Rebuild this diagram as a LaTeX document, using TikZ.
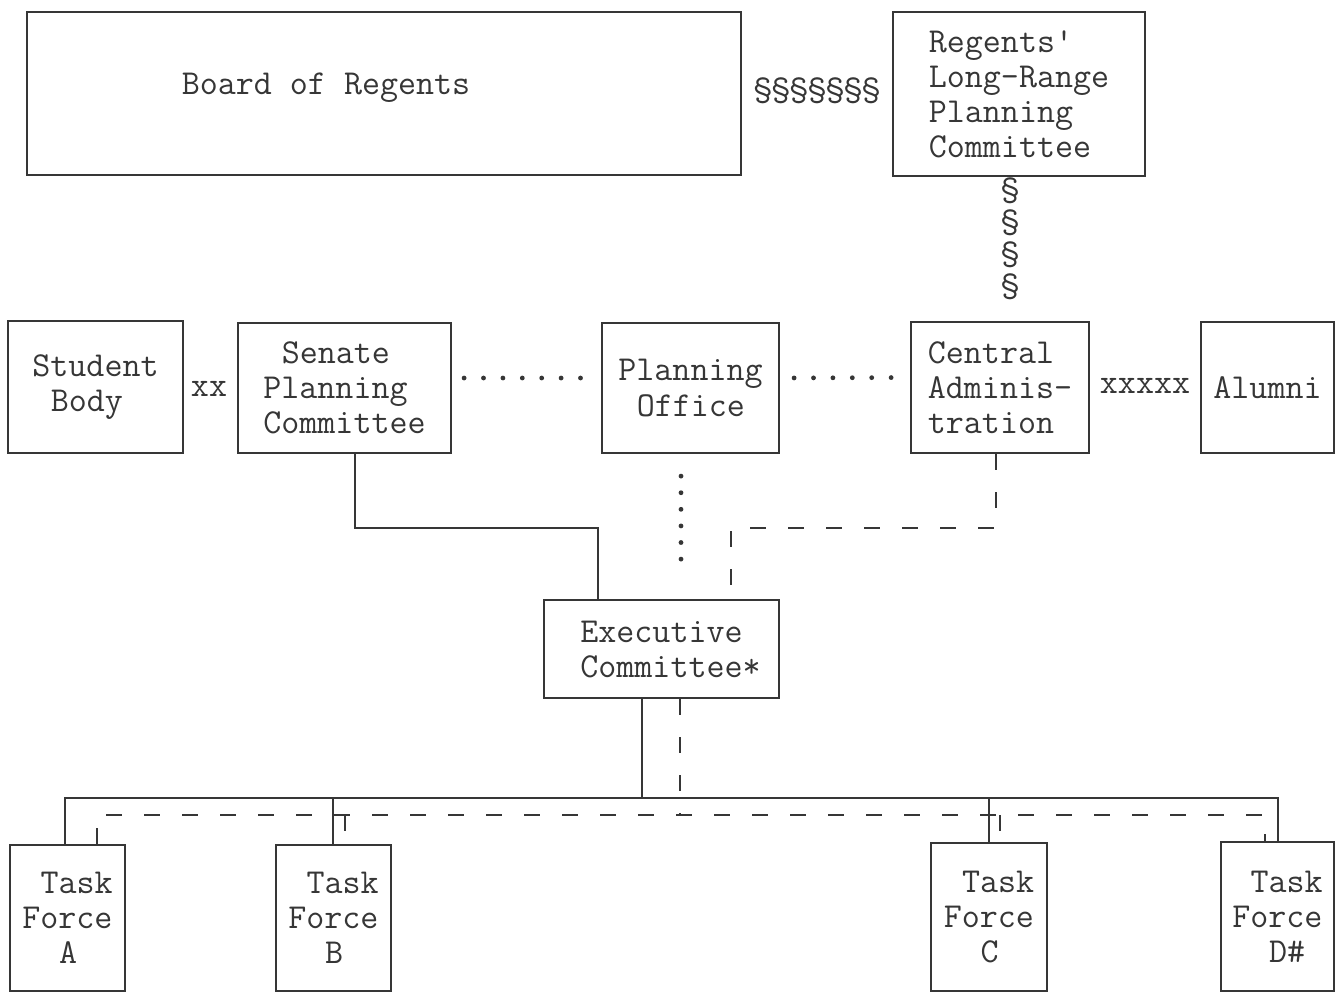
\documentclass[tikz,border=0pt]{standalone}
\usepackage{fontspec}
\usetikzlibrary{calc}
\definecolor{ink}{HTML}{363636}
\begin{document}
\begin{tikzpicture}[x=0.5pt,y=-0.5pt,
  every node/.style={font=\ttfamily\fontsize{17.5}{17.5}\selectfont, text=ink},
  box/.style={draw=ink, line width=1.1pt, inner sep=0pt, align=left},
  conn/.style={draw=ink, line width=1.1pt},
  dashl/.style={draw=ink, line width=1.1pt, dash pattern=on 8pt off 11pt},
  dotl/.style={draw=ink, line width=2.4pt, line cap=round, dash pattern=on 0pt off 9.7pt},
  dotv/.style={draw=ink, line width=2.4pt, line cap=round, dash pattern=on 0pt off 8.3pt}]
\useasboundingbox (0,0) rectangle (1336,993);
\clip (0,0) rectangle (1336,993);
% top row
\node[box, minimum width=357pt, minimum height=81.5pt,
  label={[xshift=-29pt, yshift=3pt]center:Board of Regents}] (board) at (384,93.5) {};
\node[box, minimum width=126pt, minimum height=82pt] (lrpc) at (1019,94)
  {Regents'\\Long-Range\\Planning\\Committee};
\node (s1) at (817,91) {§§§§§§§};
\node[align=center, font=\ttfamily\fontsize{17.5}{16}\selectfont] (s2) at (1010,239) {§\\§\\§\\§};
% middle row
\node[box, minimum width=87.5pt, minimum height=66pt] (student) at (95.5,387)
  {Student\\\hspace*{0.525em}Body};
\node[box, minimum width=106.5pt, minimum height=65pt] (senate) at (344.5,388)
  {\hspace*{0.525em}Senate\\Planning\\Committee};
\node[box, minimum width=88.5pt, minimum height=65pt] (plan) at (690.5,388)
  {Planning\\\hspace*{0.525em}Office};
\node[box, minimum width=89pt, minimum height=65.5pt] (central) at (1000,387.5)
  {Central\\Adminis-\\tration};
\node[box, minimum width=66.5pt, minimum height=65.5pt] (alumni) at (1267.5,387.5)
  {Alumni};
\node (x1) at (209,389) {xx};
\node (x2) at (1145,386) {xxxxx};
% executive committee
\node[box, minimum width=117.5pt, minimum height=49pt] (exec) at (661.5,649)
  {Executive\\Committee\rlap{*}};
% task forces
\node[box, minimum width=57.5pt, minimum height=73pt] (tfa) at (67.5,918)
  {\hspace*{0.525em}Task\\Force\\\hspace*{1.05em}A};
\node[box, minimum width=57.5pt, minimum height=73pt] (tfb) at (333.5,918)
  {\hspace*{0.525em}Task\\Force\\\hspace*{1.05em}B};
\node[box, minimum width=58pt, minimum height=74pt] (tfc) at (989,917)
  {\hspace*{0.525em}Task\\Force\\\hspace*{1.05em}C};
\node[box, minimum width=56.5pt, minimum height=74.5pt] (tfd) at (1277.5,916.5)
  {\hspace*{0.525em}Task\\Force\\\hspace*{1.05em}D\#};
% dotted connectors
\draw[dotl, shorten <=6pt, shorten >=7pt] ([yshift=5pt]senate.east) -- ([yshift=5pt]plan.west);
\draw[dotl, shorten <=7pt, shorten >=7pt] ([yshift=5pt]plan.east) -- ([yshift=5pt]central.west);
\draw[dotv, shorten <=11pt, shorten >=12pt] (plan.south -| 681,0) -- (exec.north -| 681,0);
% solid connectors
\draw[conn] (senate.south -| 355,0) -- (355,528) -| (exec.north -| 598,0);
\coordinate (bj) at (642,798);
\draw[conn] (exec.south -| 642,0) -- (bj);
\draw[conn] (tfa.north -| 65,0) -- (65,798) -- (1278,798) -- (tfd.north -| 1278,0);
\draw[conn] (333,798) -- (tfb.north -| 333,0);
\draw[conn] (989,798) -- (tfc.north -| 989,0);
% dashed connectors
\draw[dashl] (central.south -| 996,0) |- (731,528) -- (exec.north -| 731,0);
\coordinate (dj) at (680,815);
\draw[dashl] (exec.south -| 680,0) -- (dj);
\draw[dashl] (tfa.north -| 97,0) -- (97,815) -- (1265,815) -- (tfd.north -| 1265,0);
\draw[dashl] (345,815) -- (tfb.north -| 345,0);
\draw[dashl] (1000,815) -- (tfc.north -| 1000,0);
\end{tikzpicture}
\end{document}
